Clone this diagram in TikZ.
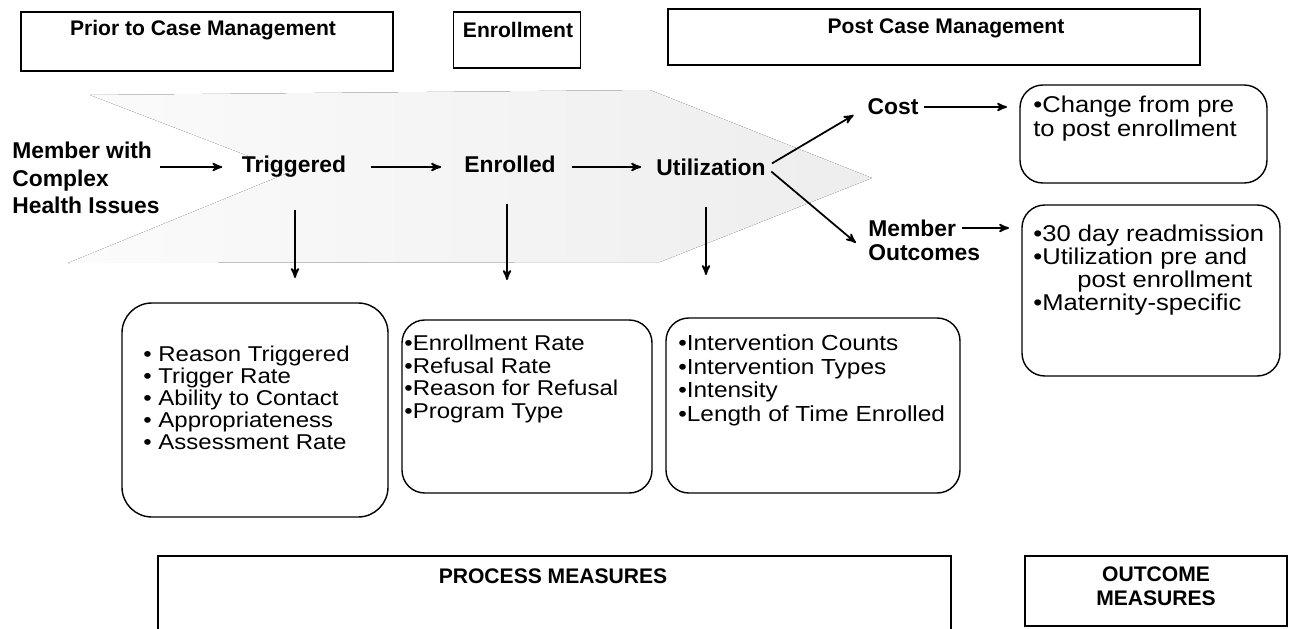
\documentclass[tikz,border=0pt]{standalone}
\usepackage{fontspec}
\setmainfont{Liberation Sans}
\newfontfamily\listfont[FakeStretch=1.12]{Liberation Sans}
\usetikzlibrary{arrows,positioning}

\newcommand\pxu{0.02cm}

\begin{document}
\begin{tikzpicture}[x=0.02cm,y=-0.02cm,>=stealth',
		box/.style={draw,line width=0.8pt,inner sep=0pt},
		round box/.style={box,rounded corners=13pt},
		head/.style={font=\bfseries\fontsize{12}{13}\selectfont,inner sep=0pt},
		stage/.style={font=\bfseries\fontsize{13}{15.5}\selectfont,inner sep=0pt,align=left},
		items/.style={font=\listfont\fontsize{12.2}{12.8}\selectfont,inner sep=0pt,align=left,anchor=north west},
		flow/.style={->,line width=1pt}]
	
	\useasboundingbox (0,0) rectangle (1289,629);
	
	% faded arrow behind the flow
	\fill[left color=gray!3,right color=gray!14] (90,95) -- (650,90) -- (872,178) -- (660,262) -- (68,263) -- (290,172) -- cycle;
	
	% phase headers
	\node[box,minimum width=372*\pxu,minimum height=59*\pxu] (priorbox) at (207,41.5) {};
	\node[box,minimum width=127*\pxu,minimum height=56*\pxu] (enrolbox) at (517,40) {};
	\node[box,minimum width=532*\pxu,minimum height=56*\pxu] (postbox) at (934,37) {};
	\node[head] (prior) at (203,30) {Prior to Case Management};
	\node[head] (enrol) at (518,30) {Enrollment};
	\node[head] (post) at (946,28) {Post Case Management};
	
	% flow
	\node[stage,anchor=west] (member) at (12,178) {Member with\\Complex\\Health Issues};
	\node[stage] (trig) at (294,167) {Triggered};
	\node[stage] (enr) at (510,164) {Enrolled};
	\node[stage] (util) at (711,167) {Utilization};
	\node[stage] (cost) at (893,107) {Cost};
	\node[stage,anchor=west] (mem) at (868,228) {Member};
	\node[stage,anchor=west] (outc) at (868,253) {Outcomes};
	
	\coordinate (trigend) at (295,278);
	\coordinate (enrend) at (507,280);
	\coordinate (utilend) at (706,275);
	
	% measure boxes
	\node[round box,minimum width=266*\pxu,minimum height=214*\pxu,rounded corners=17pt] (trigbox) at (255,410) {};
	\node[round box,minimum width=250*\pxu,minimum height=173*\pxu] (enrbox) at (527,406.5) {};
	\node[round box,minimum width=294*\pxu,minimum height=175*\pxu] (utilbox) at (813,405.5) {};
	\node[round box,minimum width=247*\pxu,minimum height=98*\pxu] (costbox) at (1143.5,134) {};
	\node[round box,minimum width=258*\pxu,minimum height=171*\pxu] (outbox) at (1151,290.5) {};
	
	\node[items,font=\listfont\fontsize{12.2}{12.5}\selectfont] (trigitems) at (143,346) {\textbullet\ Reason Triggered\\\textbullet\ Trigger Rate\\\textbullet\ Ability to Contact\\\textbullet\ Appropriateness\\\textbullet\ Assessment Rate};
	\node[items] (enritems) at (404,335) {\textbullet Enrollment Rate\\\textbullet Refusal Rate\\\textbullet Reason for Refusal\\\textbullet Program Type};
	\node[items,font=\listfont\fontsize{12.4}{13.6}\selectfont] (utilitems) at (678,334) {\textbullet Intervention Counts\\\textbullet Intervention Types\\\textbullet Intensity\\\textbullet Length of Time Enrolled};
	\node[items,font=\listfont\fontsize{13}{13.2}\selectfont] (costitems) at (1033,96) {\textbullet Change from pre\\to post enrollment};
	\node[items,font=\listfont\fontsize{13}{13}\selectfont] (outitems) at (1033,225) {\textbullet 30 day readmission\\\textbullet Utilization pre and\\\hspace*{25pt}post enrollment\\\textbullet Maternity-specific};
	
	% bottom labels
	\node[box,minimum width=793*\pxu,minimum height=76*\pxu] (procbox) at (554.5,594) {};
	\node[box,minimum width=262*\pxu,minimum height=70*\pxu] (outcomebox) at (1156,591) {};
	\node[head] (proc) at (553,576) {PROCESS MEASURES};
	\node[head,align=center,font=\bfseries\fontsize{12}{13.5}\selectfont] (outcome) at (1156,586) {OUTCOME\\MEASURES};
	
	\draw[flow,shorten >=11pt] (member.east |- trig.west) -- (trig.west);
	\draw[flow,shorten <=14pt,shorten >=13pt] (trig.east) -- (enr.west |- trig.east);
	\draw[flow,shorten <=9pt,shorten >=8.5pt] (enr.east |- util.west) -- (util.west);
	\draw[flow,shorten <=4pt,shorten >=9pt] (util.east) -- (cost.west);
	\draw[flow,shorten <=4pt,shorten >=9pt] (util.east) -- (outc.west);
	\draw[flow,shorten <=3pt,shorten >=7pt] (cost.east) -- (cost.east -| costbox.west);
	\draw[flow,shorten <=3pt,shorten >=7pt] (mem.east) -- (mem.east -| outbox.west);
	\draw[flow,shorten <=18pt] (trig.south -| trigend) -- (trigend);
	\draw[flow,shorten <=18pt] (enr.south -| enrend) -- (enrend);
	\draw[flow,shorten <=18pt] (util.south -| utilend) -- (utilend);
	
\end{tikzpicture}
\end{document}
